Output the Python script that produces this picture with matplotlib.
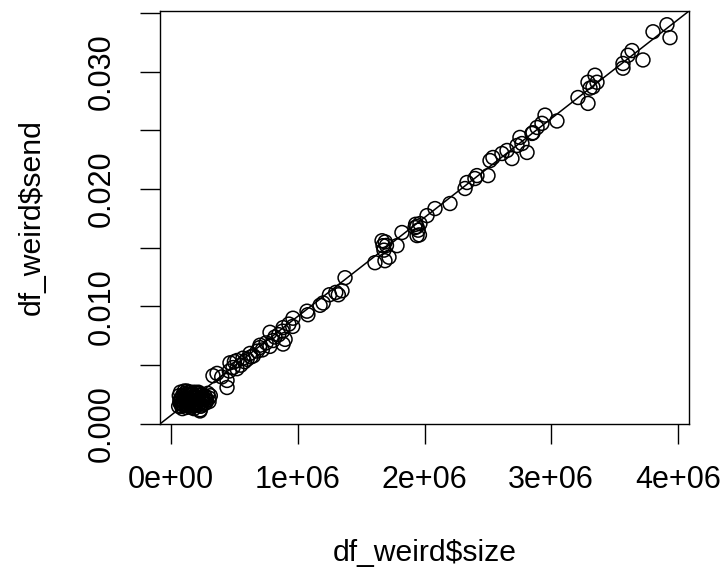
import numpy as np
import matplotlib
matplotlib.use("Agg")
import matplotlib.pyplot as plt

plt.rcParams['font.family'] = ['Liberation Sans', 'DejaVu Sans']

# message size (bytes, in millions) and send time, one entry per message
size_mb = [
    # small messages
    0.06, 0.07, 0.08, 0.09, 0.09, 0.10, 0.10, 0.11, 0.11, 0.12, 0.12, 0.13, 0.13, 0.14, 0.14,
    0.15, 0.15, 0.16, 0.17, 0.17, 0.18, 0.18, 0.19, 0.20, 0.20, 0.21, 0.22, 0.22, 0.23, 0.24,
    0.25, 0.25, 0.26, 0.27, 0.28, 0.30, 0.07, 0.08, 0.12, 0.16, 0.23, 0.10, 0.13, 0.229,
    0.065, 0.075, 0.085, 0.095, 0.105, 0.115, 0.125, 0.135, 0.145, 0.155, 0.165, 0.175,
    0.185, 0.195, 0.205, 0.215, 0.225, 0.235, 0.245, 0.255, 0.265, 0.275, 0.29, 0.31,
    0.09, 0.11, 0.14, 0.17, 0.19, 0.21, 0.24, 0.27, 0.30, 0.12, 0.15, 0.18,
    # medium
    0.331, 0.363, 0.442, 0.442, 0.465, 0.489, 0.521, 0.568, 0.623, 0.702, 0.805, 0.781,
    0.884, 0.884, 0.962, 1.073, 1.176,
    0.55, 0.60, 0.65, 0.68, 0.72, 0.75, 0.78, 0.85, 0.90, 0.93, 0.50, 0.52,
    0.40, 0.46, 0.58, 0.63, 0.70, 0.82, 0.88, 0.96,
    1.08, 1.20, 1.25, 1.30, 1.32, 1.373, 1.349,
    1.609, 1.688, 1.673, 1.665, 1.783, 1.822, 1.925, 1.941, 1.964, 2.020, 2.083, 2.201,
    2.320, 2.335, 2.398, 2.414, 2.501, 2.517, 2.540, 2.611, 2.651, 2.690, 2.730, 2.769,
    2.809, 2.848, 2.888,
    1.70, 1.68, 1.72, 1.69, 1.93, 1.95, 1.94, 1.96,
    # large
    2.753, 2.856, 2.927, 2.951, 3.045, 3.211, 3.290, 3.306, 3.290, 3.329, 3.345, 3.361,
    3.566, 3.566, 3.606, 3.637, 3.724, 3.803, 3.913, 3.937,
]
send_s = [
    0.0015, 0.0018, 0.0021, 0.0013, 0.0024, 0.0016, 0.0019, 0.0022, 0.0026, 0.0014, 0.0017,
    0.0020, 0.0023, 0.0027, 0.0015, 0.0018, 0.0021, 0.0025, 0.0017, 0.0020, 0.0023, 0.0013,
    0.0019, 0.0022, 0.0026, 0.0016, 0.0020, 0.0024, 0.0018, 0.0021, 0.0019, 0.0023, 0.0017,
    0.0021, 0.0020, 0.0022, 0.0020, 0.0017, 0.0025, 0.0014, 0.0012, 0.0023, 0.0016, 0.0011,
    0.0024, 0.0027, 0.0015, 0.0020, 0.0028, 0.0019, 0.0028, 0.0021, 0.0024, 0.0027, 0.0022,
    0.0015, 0.0027, 0.0017, 0.0018, 0.0027, 0.0026, 0.0015, 0.0025, 0.0021, 0.0024, 0.0018,
    0.0026, 0.0024,
    0.0017, 0.0020, 0.0022, 0.0026, 0.0016, 0.0019, 0.0016, 0.0023, 0.0019, 0.0021, 0.0025,
    0.0016,
    0.0041, 0.0043, 0.0037, 0.0031, 0.0052, 0.0048, 0.0054, 0.0056, 0.0060, 0.0067, 0.0071,
    0.0078, 0.0068, 0.0082, 0.0090, 0.0096, 0.0101,
    0.0050, 0.0055, 0.0058, 0.0062, 0.0063, 0.0069, 0.0066, 0.0076, 0.0072, 0.0085, 0.0053,
    0.0047,
    0.0040, 0.0045, 0.0053, 0.0057, 0.0065, 0.0074, 0.0079, 0.0083,
    0.0093, 0.0103, 0.0110, 0.0112, 0.0110, 0.01245, 0.01134,
    0.01373, 0.0139, 0.01518, 0.0156, 0.01518, 0.0163, 0.01672, 0.01604, 0.01706, 0.01774,
    0.01834, 0.01877, 0.02005, 0.02056, 0.0209, 0.02115, 0.02115, 0.02243, 0.02269, 0.02303,
    0.02329, 0.0226, 0.02371, 0.02388, 0.02312, 0.02474, 0.02525,
    0.0152, 0.0148, 0.0142, 0.0155, 0.0170, 0.0165, 0.0168, 0.0161,
    0.0244, 0.0248, 0.0256, 0.0263, 0.0258, 0.0278, 0.0273, 0.0286, 0.0291, 0.0287, 0.0297,
    0.0291, 0.0303, 0.0307, 0.0314, 0.0318, 0.0310, 0.0334, 0.0340, 0.0329,
]

# fitted line
fit_intercept = 0.00073
fit_slope = 8.426e-9

x = np.array(size_mb) * 1e6
y = np.array(send_s)

fig = plt.figure(figsize=(7.26, 5.77), dpi=100)
ax = fig.add_axes([160 / 726, 1 - 424 / 577, 529 / 726, 413 / 577])

ax.scatter(x, y, s=100, facecolors='none', edgecolors='black', linewidths=1.1, zorder=3)
ax.axline((0, fit_intercept), slope=fit_slope, color='black', linewidth=1.1)

ax.set_xlim(-0.087e6, 4.087e6)
ax.set_ylim(-0.00001, 0.03517)

xt = [0, 1e6, 2e6, 3e6, 4e6]
ax.set_xticks(xt)
ax.set_xticklabels(['0e+00', '1e+06', '2e+06', '3e+06', '4e+06'])
yt = [0.0, 0.005, 0.010, 0.015, 0.020, 0.025, 0.030, 0.035]
ax.set_yticks(yt)
ax.set_yticklabels(['0.000', '', '0.010', '', '0.020', '', '0.030', ''])

ax.tick_params(axis='both', length=14.4, width=1.0, labelsize=22, color='black')
ax.tick_params(axis='x', pad=15)
ax.tick_params(axis='y', pad=17, labelrotation=90)
for lab in ax.get_yticklabels():
    lab.set_va('center')
for sp in ax.spines.values():
    sp.set_linewidth(1.0)

fig.text(424.5 / 726, 1 - 561 / 577, 'df_weird$size', fontsize=21.7,
         ha='center', va='baseline')
fig.text(40 / 726, 1 - 217.5 / 577, 'df_weird$send', fontsize=21.7,
         ha='center', va='baseline', rotation=90, rotation_mode='anchor')

fig.savefig('out.png', dpi=100)
